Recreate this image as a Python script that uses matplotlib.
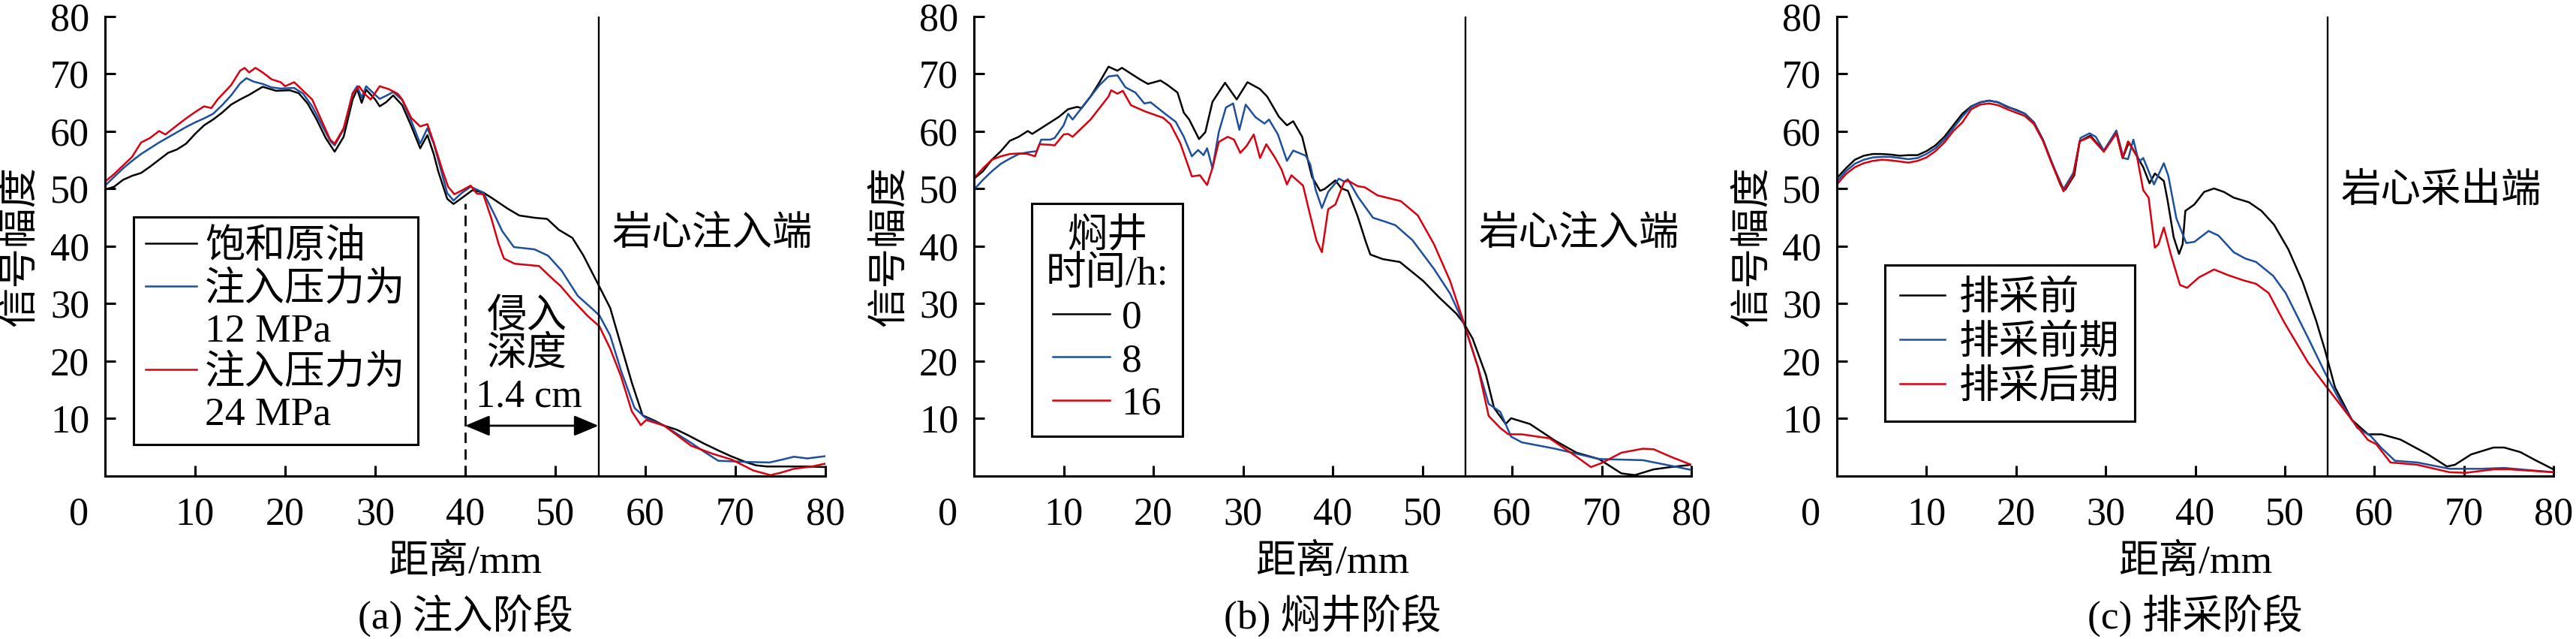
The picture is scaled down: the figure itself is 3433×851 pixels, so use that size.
import matplotlib
matplotlib.use('Agg')
import matplotlib.pyplot as plt
from matplotlib.lines import Line2D

plt.rcParams['font.family'] = ['Liberation Serif', 'Noto Sans CJK SC']
plt.rcParams['axes.unicode_minus'] = False

FS = 37.5
FS_CJK = 38.5
BLACK = '#000000'
BLUE = '#1c4f9c'
RED = '#d9000f'
CORE_END = 54.8

# (a) injection stage
a_x_oil = [0, 1, 2, 3, 4, 5, 6, 7, 8, 9, 10, 11, 12, 13, 14, 15, 16, 17.5, 19, 20.5,
           21.5, 22.5, 23.5, 24.5, 25.5, 26.5, 27.5, 28, 28.5, 29, 30, 30.5, 31.2, 32, 33, 34,
           35, 35.8, 36.5, 37, 38, 38.7, 39.5, 40.8, 42, 43, 44.7, 46, 47.7, 49.1, 50.4,
           51.9, 53.1, 54.9, 56.1, 57.3, 58.5, 59.7, 61, 62.1, 63.5, 64.8, 66.5, 68.1,
           69.5, 71.1, 72.3, 73.5, 76, 78, 80]
a_y_oil = [49.8, 50.3, 51.5, 52.2, 52.7, 53.8, 55, 56.2, 56.8, 57.8, 59.5, 61, 62, 63.2,
           64.6, 65.5, 66.3, 67.7, 67.0, 67.1, 66.6, 64.8, 62, 58.8, 56.4, 59, 65.5, 67.3,
           64.9, 67.2, 65.5, 64.3, 65.0, 66.2, 64.5, 60.9, 57, 59.3, 56, 53, 48.2, 47.3,
           48.2, 49.7, 49.3, 48.3, 46.5, 45.3, 44.9, 44.7, 42.8, 41.4, 38.4, 32.9, 29.2,
           22.7, 16.2, 10.5, 9.6, 8.7, 8.0, 7.0, 5.6, 4.4, 3.4, 2.4, 1.8, 1.6, 1.6, 1.6, 1.5]

a_x_12 = [0, 1, 2, 3, 4, 5, 6, 7, 8, 9, 10, 11, 12, 13, 14, 15, 15.7, 16.5, 17.5, 18.5,
          19.5, 21, 22, 23, 24, 25, 25.5, 26.5, 27.5, 28, 28.5, 29, 30, 30.5, 31.3, 32, 33,
          34, 35, 35.8, 36.5, 37, 38, 38.7, 39.6, 40.6, 42, 43.2, 44.1, 45.4, 47.7, 49.2,
          50.7, 52.5, 54, 54.9, 56.1, 57.3, 58.8, 60, 62.1, 65.1, 66.5, 68.1, 71.1, 73.8,
          75.2, 76.5, 78, 80]
a_y_12 = [50.5, 52, 53.5, 54.8, 56, 57, 58, 58.9, 59.8, 60.7, 61.5, 62.2, 63, 64.5, 66.2,
          68.3, 69.2, 68.6, 68.2, 67.6, 67.4, 67.5, 66.5, 64.3, 61.3, 58.3, 57.5, 60.3,
          66.6, 67.8, 65.8, 67.8, 66.3, 65.6, 66.2, 66.8, 65.4, 61.8, 57.8, 60.5, 57.8, 55,
          49.2, 47.9, 49.2, 50.3, 49.3, 45.6, 42.6, 39.8, 39.4, 38.3, 35.7, 31.3, 29.2,
          27.9, 24.4, 18.3, 11.8, 10.1, 8.7, 5.7, 4.2, 2.6, 2.4, 2.3, 2.8, 3.3, 3.0, 3.4]

a_x_24 = [0, 1, 2, 3, 4, 5, 6, 6.7, 8, 9, 10, 11, 11.8, 12.5, 14, 15, 15.5, 16, 16.7, 17.5,
          18.5, 19.5, 20, 21, 22, 23, 24, 25, 25.5, 26.5, 27.5, 28.2, 28.8, 29.5, 30.5,
          31.5, 32.5, 33, 34, 35, 35.8, 36.5, 37.5, 38.1, 38.8, 39.8, 40.6, 41.3, 42, 42.9,
          43.7, 44.3, 45.5, 48.2, 49.4, 50.6, 51.8, 53.6, 54.9, 56.1, 57.3, 58.5, 59.5,
          60.1, 62.1, 65.1, 67.5, 69.6, 72, 73.9, 75, 76.5, 78.5, 80]
a_y_24 = [51.2, 52.5, 54, 55.5, 58, 58.8, 60, 59.4, 61, 62.2, 63.3, 64.3, 64, 65.5, 68,
          70.5, 71, 70.2, 71, 70.2, 69, 68.5, 67.8, 68.5, 67, 65.5, 62, 58.5, 57.8, 60.5,
          66.5, 67.8, 66.5, 65.5, 67.8, 67.3, 66.5, 65.5, 62.3, 60.8, 61.2, 58, 53, 50.3,
          49.0, 49.8, 50.5, 49.1, 49.0, 44.8, 40.4, 37.8, 36.9, 36.5, 34.7, 33.0, 30.8,
          27.8, 26.0, 22.1, 17.3, 11.2, 8.8, 9.7, 8.7, 5.2, 3.8, 2.8, 0.9, 0.1, 0.5, 1.2,
          1.6, 2.1]

# (b) soaking stage, hours
b_x_0 = [0, 1, 2, 3, 4, 5, 6, 6.5, 7.5, 8.5, 9.5, 10.5, 11.5, 12, 13, 14, 15, 16, 16.5,
         17.5, 18.5, 19.4, 20.8, 21.6, 22.7, 23.4, 24.0, 25.1, 25.8, 26.6, 28.0, 29.3,
         30.5, 31.9, 32.7, 34.0, 34.9, 35.6, 36.6, 37.7, 38.6, 39.1, 40.3, 41.0, 41.7,
         42.8, 43.7, 44.2, 45.6, 47.5, 50.1, 51.9, 53.8, 54.6, 55.6, 57.1, 58.0, 59.3,
         59.9, 62, 64.8, 67.2, 69.7, 72.2, 73.7, 75.8, 77.7, 80]
b_y_0 = [51.7, 53, 55, 56.5, 58.3, 59, 60, 59.5, 60.5, 61.5, 62.5, 63.8, 64.2, 64, 66,
         68.5, 71.2, 70.5, 71, 70, 69, 68.2, 68.8, 68.0, 66.7, 63.2, 62.0, 58.6, 59.8,
         65.1, 68.4, 65.5, 68.5, 67.3, 66.0, 62.5, 61.0, 61.7, 59.0, 52.0, 49.6, 49.9,
         51.4, 50.0, 49.6, 45.1, 40.7, 38.5, 37.7, 37.2, 33.9, 31.0, 28.2, 26.6, 23.9,
         17.5, 11.8, 9.0, 10.0, 9.0, 6.1, 4.0, 2.9, 0.4, 0.1, 1.1, 1.5, 1.9]

b_x_8 = [0, 1, 2, 3, 4, 5, 6, 7, 7.5, 8.5, 9, 10, 10.5, 11, 12, 13, 14, 15, 16, 16.9, 18.0,
         19.0, 19.7, 21.4, 22.5, 23.4, 24.3, 25.0, 25.6, 26.0, 26.6, 27.3, 28.1, 28.9,
         29.6, 30.3, 31.4, 32.4, 32.9, 33.9, 34.9, 35.6, 37.0, 37.5, 38.1, 38.8, 39.5,
         40.7, 41.3, 41.7, 42.8, 44.5, 45.9, 47.0, 48.9, 51.3, 53.1, 54.6, 56.2, 57.4,
         58.7, 59.9, 61.1, 64.8, 69.7, 74.6, 77.5, 80]
b_y_8 = [49.8, 51.5, 53, 54.3, 55.2, 56, 56.3, 56.5, 58.5, 58.5, 58.8, 61, 63, 62, 64, 66,
         68, 69.5, 69.7, 67.6, 66.7, 64.8, 65.0, 62.9, 61.6, 59.0, 55.6, 56.7, 55.8, 57.0,
         53.5, 59.8, 64.1, 64.8, 60.2, 64.6, 62.4, 61.3, 62.0, 59.4, 54.8, 56.6, 55.7,
         54.2, 49.8, 46.6, 49.4, 51.7, 51.2, 51.6, 48.6, 44.9, 44.2, 43.6, 41.0, 36.0,
         31.7, 26.6, 18.9, 12.5, 11.1, 6.8, 5.8, 4.7, 2.9, 2.7, 1.8, 1.0]

b_x_16 = [0, 1, 2, 3, 4, 5, 6, 6.8, 7.3, 8.5, 9, 10, 10.5, 11, 12, 13, 14, 15, 15.3, 16,
          16.6, 17.5, 19.1, 21.1, 21.9, 23.0, 24.3, 25.2, 26.0, 26.6, 27.3, 28.3, 29.0,
          29.7, 30.4, 31.2, 31.9, 32.6, 33.6, 34.3, 34.9, 35.4, 36.7, 37.5, 38.2, 38.8,
          39.5, 40.3, 40.8, 41.3, 41.8, 42.8, 43.6, 45.0, 47.6, 49.5, 51.3, 53.1, 54.6,
          56.2, 57.4, 58.7, 59.6, 61.1, 64.2, 67.2, 68.8, 70, 72.2, 74.6, 75.8, 77.7, 80]
b_y_16 = [51.8, 53.5, 55, 55.6, 56, 56.1, 56.0, 55.6, 57.7, 57.6, 57.5, 59.4, 59.5, 59,
          60.5, 62, 64, 66, 67.1, 66.5, 67, 64.5, 63.4, 62.3, 61.2, 57.9, 52.1, 52.3, 50.6,
          53.6, 58.1, 59.0, 58.5, 56.2, 57.4, 59.4, 55.3, 57.7, 55.3, 53.3, 50.7, 52.3,
          50.5, 45.3, 40.9, 38.9, 46.4, 47.2, 49.2, 51.2, 51.3, 50.4, 50.2, 48.8, 47.8,
          45.3, 40.3, 33.9, 26.8, 18.9, 10.4, 8.3, 7.2, 7.2, 6.5, 3.3, 1.5, 2.2, 4.0, 4.7,
          4.6, 3.3, 1.9]

# (c) production stage
c_x_pre = [0, 1, 2, 3, 4, 5, 6, 7, 8, 9, 10, 11, 12, 13, 14, 15, 16, 17, 18, 19, 20, 21,
           22, 23, 24, 25, 25.5, 26.5, 27.1, 28.3, 29.8, 31.2, 31.9, 32.6, 33.4, 34.2,
           34.9, 35.5, 36.5, 36.9, 37.6, 38.2, 38.6, 38.9, 39.9, 41.0, 42.1, 43.2, 44.3,
           46.0, 47.4, 48.8, 50.4, 52.0, 53.5, 54.5, 55.6, 57.5, 59.3, 60.8, 62.9, 66,
           68.1, 69, 70.8, 73.3, 74.5, 76.3, 78.1, 80]
c_y_pre = [51.8, 53.5, 55, 55.7, 56, 56, 55.9, 55.7, 55.8, 55.8, 56.5, 57.5, 59, 61, 63,
           64.3, 65, 65.3, 65, 64.2, 63.7, 63, 61.5, 58.5, 54.5, 50.5, 49.8, 52.3, 58.2,
           59.2, 56.5, 59.8, 55.3, 58.0, 55.9, 53.7, 50.9, 52.6, 51.3, 48.1, 41.5, 38.6,
           40.3, 46.1, 47.2, 49.4, 50.0, 49.4, 48.4, 47.6, 46.1, 43.7, 39.4, 33.7, 27,
           21.8, 15.4, 9.7, 7.2, 7.2, 6.3, 3.7, 1.6, 1.9, 3.7, 4.9, 4.9, 4.1, 2.6, 1.1]

c_x_early = [0, 1, 2, 3, 4, 5, 6, 7, 8, 9, 10, 11, 12, 13, 14, 15, 16, 17, 18, 19, 20, 21,
             22, 23, 24, 25.3, 26.4, 27.2, 28.2, 28.9, 29.8, 31.2, 32.0, 32.5, 33.1, 33.7,
             34.2, 35.4, 36.5, 37.0, 37.9, 39.0, 39.9, 41.5, 42.6, 44.3, 45.6, 46.8, 48.7,
             50.1, 52.6, 54.5, 56.2, 58.1, 59.6, 60.8, 62.3, 64.8, 68.4, 72, 74.5, 80]
c_y_early = [51.2, 53, 54.3, 55.0, 55.4, 55.5, 55.5, 55.3, 55.1, 55.3, 56, 57, 58.5, 60.5,
             62.5, 64.2, 65.0, 65.3, 65, 64.3, 63.6, 63, 61.5, 58.5, 54.5, 49.9, 52.7, 58.8,
             59.6, 59.0, 56.6, 60.1, 55.3, 55.1, 58.5, 54.6, 55.3, 50.7, 54.4, 52.2, 44.8,
             40.5, 40.7, 42.6, 41.8, 38.9, 37.8, 37.2, 34.8, 31.8, 24.0, 17.9, 12.9, 8.3,
             6.9, 4.8, 2.6, 2.3, 1.2, 1.2, 1.35, 0.6]

c_x_late = [0, 1, 2, 3, 4, 5, 6, 7, 8, 9, 10, 11, 12, 13, 14, 15, 16, 17, 18, 19, 20, 21,
            22, 23, 24, 25.3, 26.4, 27.1, 28.3, 29.8, 31.2, 31.9, 32.5, 33.5, 34.2, 34.8,
            35.5, 35.9, 36.5, 37.3, 38.3, 39.1, 40.4, 42.1, 43.7, 45.4, 46.8, 48.2, 49.9,
            52.6, 54.5, 57.5, 59.3, 60.2, 61.8, 64.8, 68.4, 70.2, 73.3, 75.1, 80]
c_y_late = [50.7, 52.5, 53.7, 54.4, 54.8, 55, 54.9, 54.7, 54.5, 54.8, 55.4, 56.5, 58, 60,
            61.5, 63.8, 64.6, 64.8, 64.5, 63.8, 63.2, 62.6, 61.2, 58.3, 54.3, 49.5, 52.3,
            58.2, 59.0, 56.4, 59.6, 55.3, 58.2, 55.6, 49.7, 48.4, 39.7, 40.3, 43.2, 38.4,
            33.2, 32.7, 34.5, 35.9, 34.9, 34.0, 33.4, 31.8, 26.8, 19.7, 15.8, 9.7, 6.2, 5.5,
            2.3, 1.9, 0.6, 0.5, 1.1, 1.1, 0.6]

x_ticks = [10, 20, 30, 40, 50, 60, 70, 80]
y_ticks = [10, 20, 30, 40, 50, 60, 70, 80]

fig = plt.figure(figsize=(34.33, 8.51), dpi=100)
AX_H = 612 / 851
rects = [[140 / 3433, 217.5 / 851, 960 / 3433, AX_H],
         [1298 / 3433, 217.5 / 851, 956 / 3433, AX_H],
         [2448 / 3433, 217.5 / 851, 955 / 3433, AX_H]]
axes = [fig.add_axes(r) for r in rects]

XPAD = 20


def style_axes(ax, caption, end_text, end_y):
    # frame, ticks, labels and the core end marker
    ax.set_xlim(0, 80)
    ax.set_ylim(0, 80)
    for s in ['top', 'right']:
        ax.spines[s].set_visible(False)
    for s in ['left', 'bottom']:
        ax.spines[s].set_linewidth(2.2)
    ax.set_xticks(x_ticks)
    ax.set_yticks(y_ticks)
    ax.tick_params(direction='in', length=10, width=2.2, labelsize=FS)
    ax.tick_params(axis='x', pad=XPAD)
    ax.tick_params(axis='y', pad=15)
    ax.annotate('0', xy=(0, 0), xycoords='axes fraction', xytext=(-25, -XPAD),
                textcoords='offset points', ha='center', va='top', fontsize=FS)
    ax.set_xlabel('距离/mm', fontsize=FS_CJK, va='center')
    ax.xaxis.set_label_coords(0.5, -116 / 612)
    ax.set_ylabel('信号幅度', fontsize=FS_CJK, va='center')
    ax.yaxis.set_label_coords(-112 / 956, 0.5)
    ax.text(0.5, -186 / 612, caption, transform=ax.transAxes, ha='center',
            va='center', fontsize=FS_CJK)
    ax.axvline(CORE_END, color='k', lw=1.7)
    ax.text(56.3, end_y, end_text, ha='left', va='center', fontsize=FS_CJK)


def add_legend(ax, handles, labels, anchor, title=None, hl=1.3, htp=0.3,
               ls=0.2, bp=0.35):
    leg = ax.legend(handles, labels, loc='upper left', bbox_to_anchor=anchor,
                    borderaxespad=0, fontsize=FS_CJK, title=title,
                    title_fontsize=FS_CJK, frameon=True, fancybox=False,
                    edgecolor='k', framealpha=1, handlelength=hl,
                    handletextpad=htp, labelspacing=ls, borderpad=bp)
    leg.get_frame().set_linewidth(2.2)
    return leg


LW = 1.8

# (a)
ax = axes[0]
l0, = ax.plot(a_x_oil, a_y_oil, color=BLACK, lw=LW)
l1, = ax.plot(a_x_12, a_y_12, color=BLUE, lw=LW)
l2, = ax.plot(a_x_24, a_y_24, color=RED, lw=LW)
style_axes(ax, '(a) 注入阶段', '岩心注入端', 42)
ax.vlines(40, 0, 47.4, colors='k', linestyles=(0, (5, 3)), lw=2)
ax.annotate('', xy=(40, 8.7), xytext=(CORE_END, 8.7),
            arrowprops=dict(arrowstyle='<|-|>,head_length=1.0,head_width=0.42',
                            mutation_scale=20, color='k', lw=2,
                            shrinkA=0, shrinkB=0))
ax.text(46.9, 24.35, '侵入\n深度', ha='center', va='center', fontsize=FS_CJK,
        linespacing=1.0)
ax.text(47.1, 13.7, '1.4 cm', ha='center', va='center', fontsize=FS)
blank = Line2D([], [], color='none')
add_legend(ax, [l0, l1, blank, l2, blank],
           ['饱和原油', '注入压力为', '12 MPa', '注入压力为', '24 MPa'],
           (38 / 960, (633.5 - 289) / 612), hl=1.28, htp=0.2, ls=0.12, bp=0.3)

# (b)
ax = axes[1]
m0, = ax.plot(b_x_0, b_y_0, color=BLACK, lw=LW)
m1, = ax.plot(b_x_8, b_y_8, color=BLUE, lw=LW)
m2, = ax.plot(b_x_16, b_y_16, color=RED, lw=LW)
style_axes(ax, '(b) 焖井阶段', '岩心注入端', 42)
leg = add_legend(ax, [m0, m1, m2], ['0', '8', '16'],
                 (77 / 956, (633.5 - 271) / 612), title='焖井\n时间/h:',
                 hl=1.42, htp=0.3, ls=0.17, bp=0.35)
leg.get_title().set_multialignment('center')
leg.get_title().set_linespacing(1.05)

# (c)
ax = axes[2]
n0, = ax.plot(c_x_pre, c_y_pre, color=BLACK, lw=LW)
n1, = ax.plot(c_x_early, c_y_early, color=BLUE, lw=LW)
n2, = ax.plot(c_x_late, c_y_late, color=RED, lw=LW)
style_axes(ax, '(c) 排采阶段', '岩心采出端', 49.5)
add_legend(ax, [n0, n1, n2], ['排采前', '排采前期', '排采后期'],
           (64 / 955, (633.5 - 353) / 612), hl=1.12, htp=0.35, ls=0.17, bp=0.38)

fig.savefig('out.png', dpi=100)
